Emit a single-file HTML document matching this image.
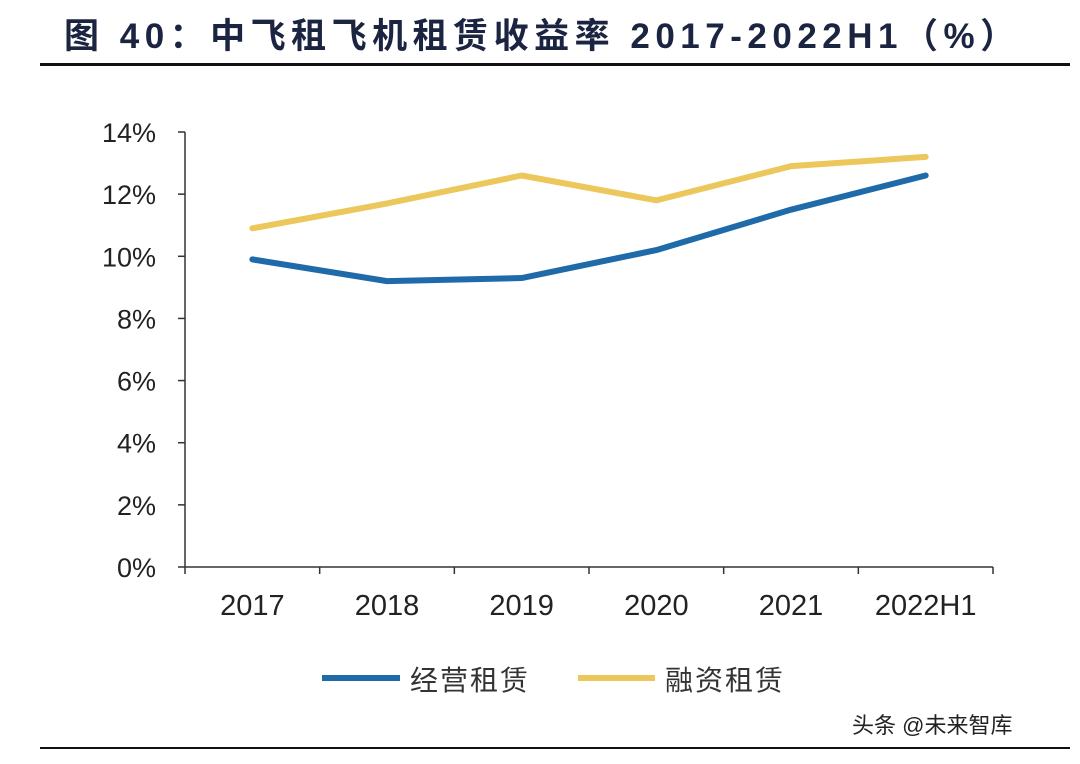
<!DOCTYPE html>
<html><head><meta charset="utf-8"><style>
html,body{margin:0;padding:0;background:#fff;width:1080px;height:764px;overflow:hidden}
svg text{font-family:"Liberation Sans","Noto Sans CJK SC",sans-serif}
</style></head><body>
<svg id="chart" width="1080" height="764">
<text x="64" y="48" font-size="35" font-weight="bold" fill="#1b2440" letter-spacing="5.5">图 40：中飞租飞机租赁收益率 2017-2022H1（%）</text>
<rect x="40" y="63" width="1030" height="3" fill="#111"/>
<rect x="40" y="747" width="1030" height="2" fill="#111"/>
<g id="axes"></g><g id="series"></g>
<line x1="322" y1="678" x2="400" y2="678" stroke="#1f6aa8" stroke-width="6"/>
<text x="410" y="690" font-size="28" fill="#333" letter-spacing="2">经营租赁</text>
<line x1="578" y1="678" x2="655" y2="678" stroke="#ecc75b" stroke-width="6"/>
<text x="665" y="690" font-size="28" fill="#333" letter-spacing="2">融资租赁</text>
<text x="852" y="733" font-size="22" fill="#222">头条 @未来智库</text>
</svg>
<script>
const categories=["2017","2018","2019","2020","2021","2022H1"];
const operating=[9.9,9.2,9.3,10.2,11.5,12.6];
const finance=[10.9,11.7,12.6,11.8,12.9,13.2];
const yTicks=[0,2,4,6,8,10,12,14];
const NS="http://www.w3.org/2000/svg";
const x0=185,x1=993,yBase=567,yTop=132;
const step=(x1-x0)/categories.length;
const xs=i=>x0+step*(i+0.5);
const ys=v=>yBase-(v/14)*(yBase-yTop);
function mk(t,a,p){const e=document.createElementNS(NS,t);for(const k in a)e.setAttribute(k,a[k]);p.appendChild(e);return e;}
const ax=document.getElementById('axes');
let l=mk('line',{x1:x0,y1:yTop,x2:x0,y2:yBase,stroke:'#333','stroke-width':1.5},ax);


l=mk('line',{x1:x0,y1:yBase,x2:x1,y2:yBase,stroke:'#333','stroke-width':1.5},ax);


yTicks.forEach(v=>{
 const y=ys(v);
 mk('line',{x1:x0-7,y1:y,x2:x0,y2:y,stroke:'#333','stroke-width':1.5},ax);
 const t=mk('text',{x:156,y:y+10,'font-size':27,'text-anchor':'end',fill:'#222'},ax);
 t.textContent=v+'%';
 
 
});
for(let i=0;i<=categories.length;i++){mk('line',{x1:x0+step*i,y1:yBase,x2:x0+step*i,y2:yBase+7,stroke:'#333','stroke-width':1.5},ax);}
categories.forEach((c,i)=>{
 const t=mk('text',{x:xs(i),y:615,'font-size':29,'text-anchor':'middle',fill:'#222'},ax);
 t.textContent=c;
 
 
});
const sg=document.getElementById('series');
function line(d,col,name){
 const p=mk('polyline',{points:d.map((v,i)=>xs(i)+','+ys(v)).join(' '),fill:'none',stroke:col,'stroke-width':6,'stroke-linejoin':'round','stroke-linecap':'round'},sg);
 
 
}
line(finance,'#ecc75b','finance-lease-line');
line(operating,'#1f6aa8','operating-lease-line');
</script>
</body></html>
